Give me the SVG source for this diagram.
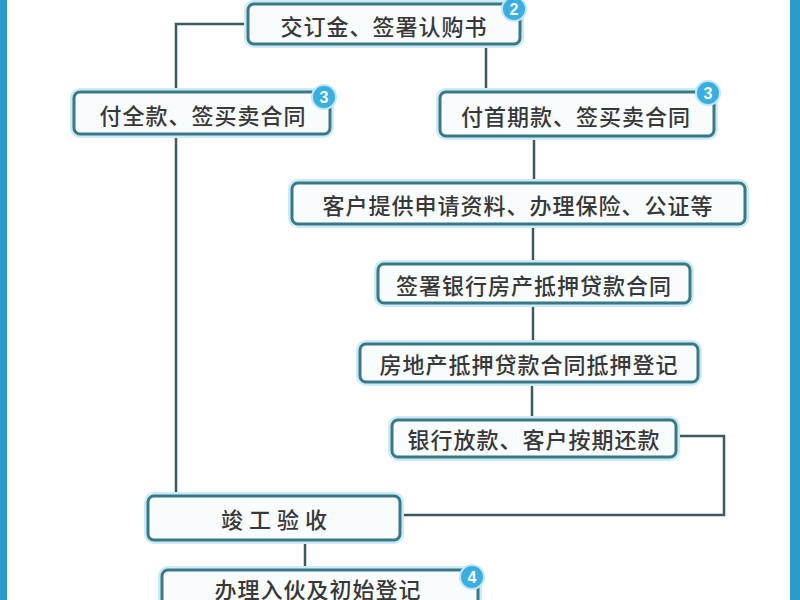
<svg xmlns="http://www.w3.org/2000/svg" width="800" height="600" viewBox="0 0 800 600">
<style>
.glow{fill:none;stroke:#c9ecf6;stroke-width:8}
.box{fill:#f8fcfd;stroke:#3b7886;stroke-width:3}
.t{font-family:"Noto Sans CJK SC","Noto Sans",sans-serif;font-size:22px;font-weight:500;fill:#383838;text-anchor:middle;dominant-baseline:central;letter-spacing:1px}
.badge{fill:#3aaee0;stroke:#bfe8f6;stroke-width:2}
.bt{font-family:"Liberation Sans",Arial,sans-serif;font-size:16px;font-weight:bold;fill:#ffffff;text-anchor:middle;dominant-baseline:central}
.ln{fill:none;stroke:#3d5a60;stroke-width:2.5}
</style>
<rect x="0" y="0" width="800" height="600" fill="#ffffff"/>
<rect x="0" y="0" width="7" height="600" fill="#2b9cc9"/>
<rect x="790" y="0" width="10" height="600" fill="#2b9cc9"/>
<g id="connectors">
<path class="ln" d="M380 0 V4"/>
<path class="ln" d="M248 24 H176 V92"/>
<path class="ln" d="M486 44 V92"/>
<path class="ln" d="M176 134 V496"/>
<path class="ln" d="M534 136 V183"/>
<path class="ln" d="M533 224 V264"/>
<path class="ln" d="M533 303 V344"/>
<path class="ln" d="M532 382 V420"/>
<path class="ln" d="M676 436 H724 V515 H400"/>
<path class="ln" d="M305 540 V570"/>
</g>
<g id="n2">
<rect class="glow" x="248" y="4" width="272" height="40" rx="6"/>
<rect class="box" x="248" y="4" width="272" height="40" rx="6"/>
<text class="t" x="384" y="25">交订金、签署认购书</text>
<circle class="badge" cx="514" cy="9" r="12"/><text class="bt" x="514" y="9">2</text>
</g>
<g id="n3a">
<rect class="glow" x="74" y="92" width="256" height="42" rx="6"/>
<rect class="box" x="74" y="92" width="256" height="42" rx="6"/>
<text class="t" x="203" y="114">付全款、签买卖合同</text>
<circle class="badge" cx="324" cy="97" r="12"/><text class="bt" x="324" y="97">3</text>
</g>
<g id="n3b">
<rect class="glow" x="440" y="92" width="274" height="44" rx="6"/>
<rect class="box" x="440" y="92" width="274" height="44" rx="6"/>
<text class="t" x="576" y="115">付首期款、签买卖合同</text>
<circle class="badge" cx="708" cy="93" r="12"/><text class="bt" x="708" y="93">3</text>
</g>
<g id="n4">
<rect class="glow" x="292" y="183" width="453" height="41" rx="6"/>
<rect class="box" x="292" y="183" width="453" height="41" rx="6"/>
<text class="t" x="518" y="204">客户提供申请资料、办理保险、公证等</text>
</g>
<g id="n5">
<rect class="glow" x="378" y="264" width="312" height="39" rx="6"/>
<rect class="box" x="378" y="264" width="312" height="39" rx="6"/>
<text class="t" x="534" y="284">签署银行房产抵押贷款合同</text>
</g>
<g id="n6">
<rect class="glow" x="360" y="344" width="338" height="38" rx="6"/>
<rect class="box" x="360" y="344" width="338" height="38" rx="6"/>
<text class="t" x="529" y="363">房地产抵押贷款合同抵押登记</text>
</g>
<g id="n7">
<rect class="glow" x="392" y="420" width="284" height="37" rx="6"/>
<rect class="box" x="392" y="420" width="284" height="37" rx="6"/>
<text class="t" x="534" y="438">银行放款、客户按期还款</text>
</g>
<g id="n8">
<rect class="glow" x="148" y="496" width="252" height="44" rx="6"/>
<rect class="box" x="148" y="496" width="252" height="44" rx="6"/>
<text class="t" x="277" y="518" style="letter-spacing:6px">竣工验收</text>
</g>
<g id="n9">
<rect class="glow" x="162" y="570" width="316" height="44" rx="6"/>
<rect class="box" x="162" y="570" width="316" height="44" rx="6"/>
<text class="t" x="318" y="588">办理入伙及初始登记</text>
<circle class="badge" cx="472" cy="577" r="12"/><text class="bt" x="472" y="577">4</text>
</g>
</svg>
